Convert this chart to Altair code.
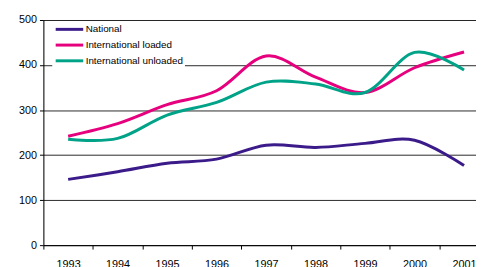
import altair as alt
import pandas as pd

years = ["1993", "1994", "1995", "1996", "1997", "1998", "1999", "2000", "2001"]
national = [146, 163, 182, 191, 222, 217, 226, 233, 177]
intl_loaded = [242, 270, 312, 343, 420, 373, 339, 394, 429]
intl_unloaded = [235, 237, 289, 317, 362, 358, 339, 428, 389]

series_names = ["National", "International loaded", "International unloaded"]
series_colors = ["#3B1A8A", "#E6007E", "#00A388"]

rows = []
for name, vals in zip(series_names, [national, intl_loaded, intl_unloaded]):
    for y, v in zip(years, vals):
        rows.append({"year": y, "value": v, "series": name})
df = pd.DataFrame(rows)

font = "Liberation Sans"

chart = alt.Chart(df).mark_line(
    interpolate="cardinal", strokeWidth=3
).encode(
    x=alt.X(
        "year:O",
        bandPosition=0.5,
        scale=alt.Scale(type="band", paddingInner=0, paddingOuter=0),
        axis=alt.Axis(
            title=None, labelAngle=0, tickBand="extent", grid=False,
            domainColor="#000", tickColor="#000", tickSize=4,
            labelFont=font, labelFontSize=11, labelColor="#000", labelPadding=10,
        ),
    ),
    y=alt.Y(
        "value:Q",
        scale=alt.Scale(domain=[0, 500], nice=False),
        axis=alt.Axis(
            title=None, values=[0, 100, 200, 300, 400, 500], grid=True,
            gridColor="#000", gridOpacity=0.85, domainColor="#000", tickColor="#000",
            tickSize=4, labelFont=font, labelFontSize=11, labelColor="#000",
            labelPadding=3,
        ),
    ),
    color=alt.Color(
        "series:N",
        scale=alt.Scale(domain=series_names, range=series_colors),
        legend=alt.Legend(
            title=None, orient="none", legendX=9, legendY=1,
            fillColor="white", padding=2, symbolType="M-2.8,0H2.8",
            symbolStrokeWidth=3, symbolSize=100, symbolOffset=9,
            labelFont=font, labelFontSize=10, labelColor="#000",
            labelOffset=10, rowPadding=3,
        ),
    ),
).properties(
    width=453, height=229,
    autosize=alt.AutoSizeParams(type="none"),
    padding={"left": 36, "top": 10, "right": -13, "bottom": 20},
).configure_view(stroke=None).configure(background="white")

chart.save("out.html", embed_options={"renderer": "svg", "actions": False})
